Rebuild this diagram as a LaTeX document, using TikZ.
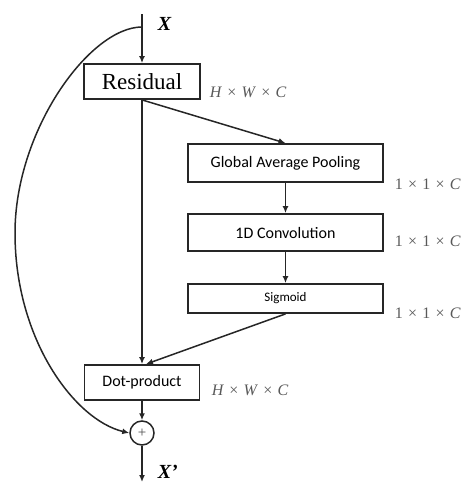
\documentclass[tikz,border=0pt]{standalone}
\usepackage{fontspec}
\setmainfont{Liberation Serif}
\newfontfamily\boxfont{Carlito}
\usetikzlibrary{arrows.meta}
\newcommand{\dimsep}{\hspace{0.33em}}
\newcommand{\dimtimes}{\dimsep×\dimsep}
\begin{document}
\begin{tikzpicture}[x=1pt,y=-1pt,
  line width=1.5pt, draw=black!85,
  tip/.style={-{Latex[length=7pt,width=6pt]}},
  serifbox/.style={draw, line width=1.8pt, minimum width=116pt, minimum height=35pt,
    inner sep=0pt, font=\fontsize{23}{26}\selectfont},
  sansbox/.style={draw, line width=1.8pt, minimum width=195pt, inner sep=0pt,
    font=\boxfont\fontsize{16}{19}\selectfont},
  dimlabel/.style={anchor=west, inner sep=0pt, text=black!65,
    font=\fontsize{16}{19}\selectfont},
  varlabel/.style={anchor=west, inner sep=0pt, font=\fontsize{20}{23}\selectfont\bfseries\itshape}]
  \useasboundingbox (0,0) rectangle (466,483);

  % main path blocks
  \node[serifbox] (res) at (142,81.5) {Residual};
  \node[sansbox, minimum height=38pt] (gap) at (285.5,163) {Global Average Pooling};
  \node[sansbox, minimum height=37pt] (conv) at (285.5,232.5) {1D Convolution};
  \node[sansbox, minimum height=29pt, font=\boxfont\fontsize{13}{15}\selectfont] (sig) at (285.5,298.5) {Sigmoid};
  \node[draw, line width=1.8pt, minimum width=115pt, minimum height=35pt, inner sep=0pt,
    font=\boxfont\fontsize{16}{19}\selectfont] (dot) at (142,382.5) {Dot-product};
  \node[draw, circle, line width=1.5pt, minimum size=24pt, inner sep=0pt,
    text=black!70, font=\fontsize{15}{15}\selectfont] (plus) at (142,433) {+};

  % tensor shapes
  \node[dimlabel] (dres) at (209,92) {\textit{H}\dimtimes\textit{W}\dimtimes\textit{C}};
  \node[dimlabel] (dgap) at (394,184) {1\dimtimes1\dimtimes\textit{C}};
  \node[dimlabel] (dconv) at (394,241) {1\dimtimes1\dimtimes\textit{C}};
  \node[dimlabel] (dsig) at (394,313) {1\dimtimes1\dimtimes\textit{C}};
  \node[dimlabel] (ddot) at (211,390) {\textit{H}\dimtimes\textit{W}\dimtimes\textit{C}};

  % input / output
  \node[varlabel] (xin) at (157,24) {X};
  \node[varlabel] (xout) at (157,472) {X\textquoteright};
  \coordinate (in) at (142,14);
  \coordinate (split) at (142,27);
  \coordinate (out) at (142,482);

  % connectors
  \draw[tip] (in) -- (res.north);
  \draw[tip] (res.south) -- (dot.north);
  \draw[tip] (res.south) -- (gap.north);
  \draw[tip] (gap) -- (conv);
  \draw[tip] (conv) -- (sig);
  \draw[tip] (sig.south) -- ([xshift=4pt]dot.north);
  \draw[tip] (dot) -- (plus);
  \draw[tip] (plus) -- (out);
  \draw[tip] (split) .. controls (90,27) and (15,130) .. (15,233)
    .. controls (15,340) and (75,420) .. (plus.west);
\end{tikzpicture}
\end{document}
